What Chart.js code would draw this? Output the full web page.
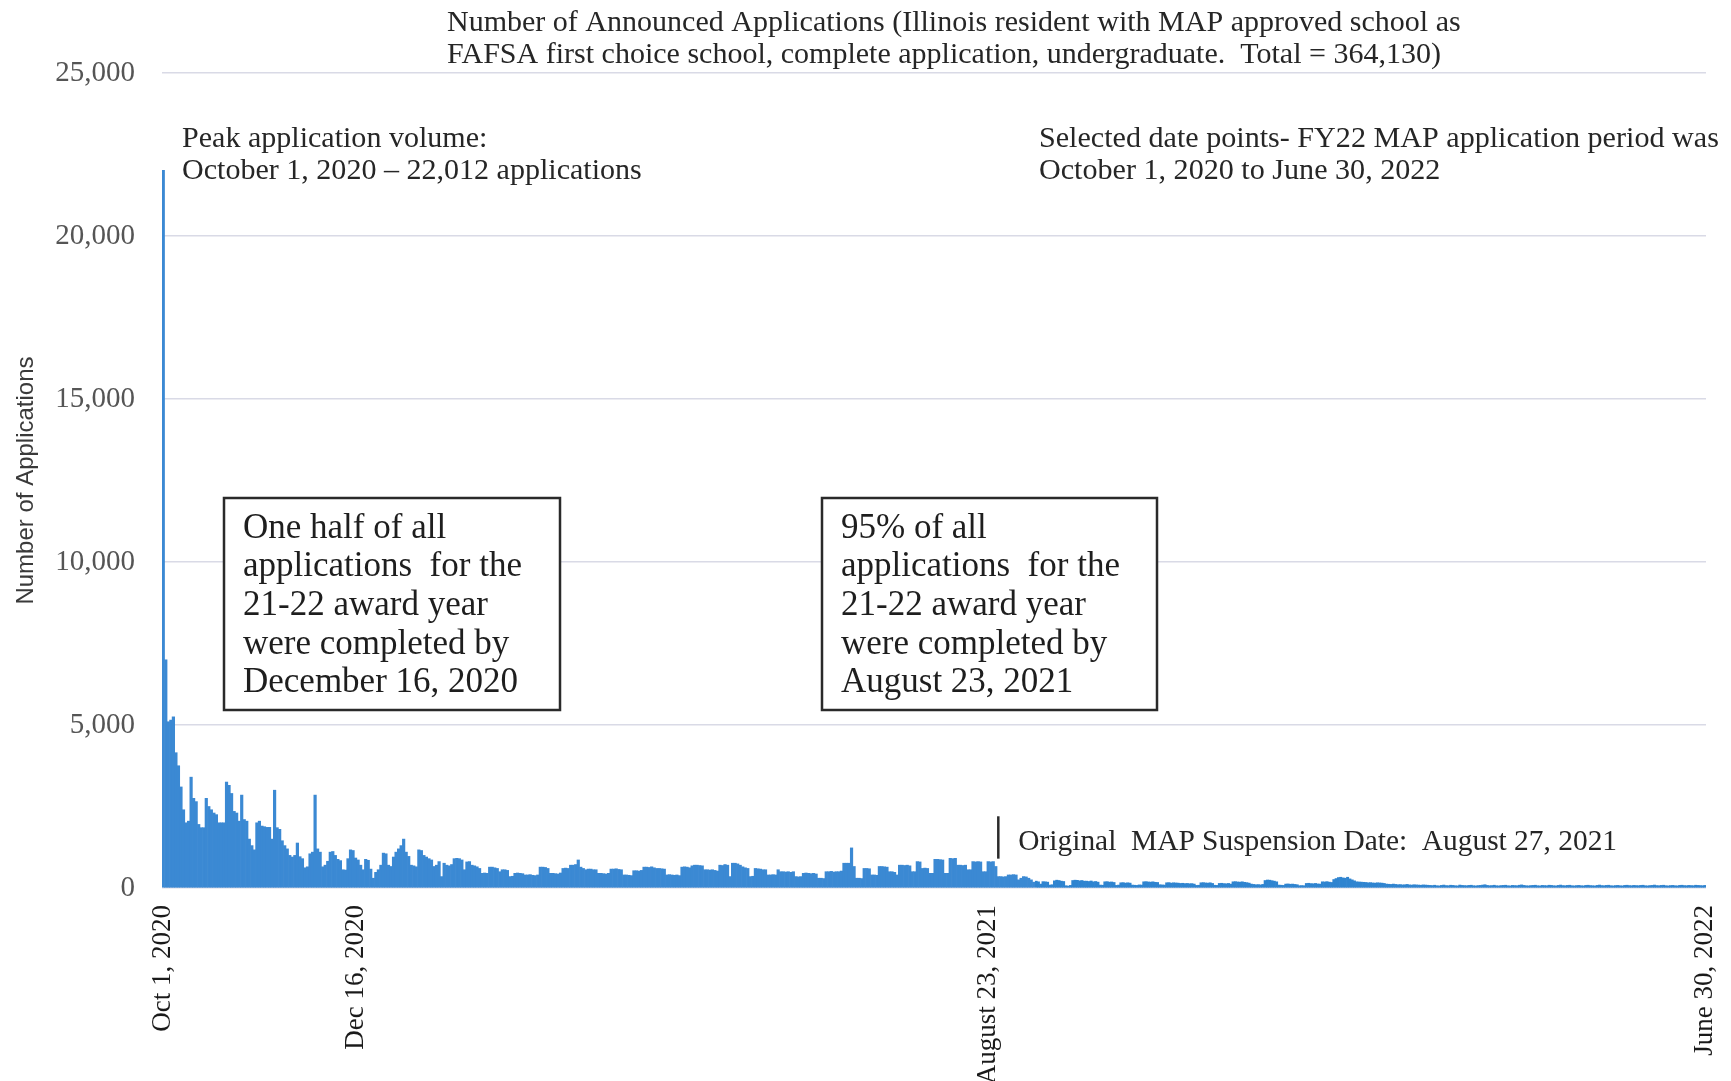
<!DOCTYPE html>
<html><head><meta charset="utf-8">
<script src="https://cdn.jsdelivr.net/npm/chart.js@4.4.1/dist/chart.umd.min.js"></script>
<style>html,body{margin:0;padding:0;background:#fff;}#wrap{width:1731px;height:1081px;position:relative;}</style>
</head><body><div id="wrap"><canvas id="c" width="1731" height="1081"></canvas></div>
<script>
// ---- DATA (daily applications) ----
const startDate = '2020-10-01';
const endDate = '2022-06-30';
const splitDate = '2021-09-11'; // first day of the compressed right-hand segment
const oct2020 = [22012,7000,5100,5150,5250,4150,3750,3100,2400,2000,2050,3400,2750,2650,1950,1850,1850,2750,2500,2400,2300,2250,2000,2000,2000,3250,3150,2900,2350,2300,2050];
const nov2020 = [2850,2100,2050,1500,1300,1170,2000,2050,1900,1880,1860,1860,1500,3000,1850,1800,1450,1300,1200,1000,950,1000,1380,960,900,620,650,1050,1100,2850];
const dec2020 = [1200,1100,650,700,820,1100,1120,1000,880,840,560,550,900,1170,1150,920,860,700,560,880,850,580,300,480,560,700,1070,1050,700,660,950];
const jan2021 = [1100,1200,1300,1500,1100,970,700,680,650,1170,1150,1000,950,900,860,660,700,810,350,760,700,680,720,900,910,900,860,560,800,810,700];
const feb2021 = [680,650,600,450,460,450,640,640,620,600,500,560,560,540,350,360,450,460,450,440,400,400,410,390,380,400,640,640];
const mar2021 = [630,600,450,450,440,430,460,600,610,600,700,700,720,860,640,600,560,580,580,560,560,450,450,440,430,450,580,580,590,570,560];
const apr2021 = [400,400,390,380,530,530,520,540,640,640,630,650,620,600,600,590,580,400,410,400,390,400,380,640,650,640,620,680,700,700];
const may2021 = [690,680,560,560,550,560,540,520,700,690,720,700,350,760,760,740,700,650,620,600,350,360,600,590,580,560,560,400,400,410,400];
const jun2021 = [560,500,500,490,500,480,500,350,340,350,450,460,450,440,450,430,300,300,290,500,500,510,490,500,500,520,760,760,760,1230];
const jul2021 = [660,300,300,290,600,600,590,400,400,390,660,660,650,640,500,500,480,400,700,700,690,700,680,500,500,810,800,600,610,600,450];
const aug2021 = [450,880,880,870,860,450,450,910,900,910,700,700,690,700,560,560,810,800,810,800,500,500,810,800,810,660,350,350,340,350,400];
const sep2021 = [400,410,400,250,300,350,340,300,250,180,210,190,120,195,190,180,90,100,220,240,230,210,200,70,60,80,230,240,235,220];
const oct2021 = [230,210,210,200,215,190,200,180,90,85,190,195,180,185,170,80,90,160,165,150,160,150,90,85,80,95,90,190,195,185,180];
const nov2021 = [190,175,170,100,95,90,160,165,150,160,155,150,140,145,135,140,130,135,120,80,85,160,165,155,150,160,140,85,80,140];
const dec2021 = [145,135,130,140,120,190,195,185,180,190,175,165,150,120,110,100,105,95,110,230,245,240,225,210,190,90,85,80,120,125,115];
const jan2022 = [120,110,100,70,75,70,140,145,135,130,140,125,120,190,185,195,180,170,260,290,320,330,310,300,330,280,250,220,190,185,180];
const feb2022 = [175,170,160,165,155,150,160,155,150,140,120,115,110,120,110,100,105,95,100,110,95,90,100,95,90,85,95,90];
const mar2022 = [85,80,75,85,70,65,80,90,75,70,85,80,70,65,90,80,75,70,80,85,70,65,75,80,90,100,80,70,75,85,70];
const apr2022 = [65,75,80,85,70,65,80,75,70,85,95,80,70,65,75,80,85,70,65,80,75,70,85,80,70,65,80,90,75,70];
const may2022 = [80,85,70,65,75,80,70,65,80,85,75,70,65,80,90,75,70,80,85,70,65,75,80,70,65,80,85,75,70,80,75];
const jun2022 = [70,80,85,70,65,75,80,90,75,70,80,85,70,65,75,80,70,65,80,85,75,70,80,75,70,85,80,75,70,80];

const tickDates = ['2020-10-01','2020-12-16','2021-08-23','2022-06-30'];
const tickTexts = ['Oct 1, 2020','Dec 16, 2020','August 23, 2021','June 30, 2022'];
const yTicks = [0, 5000, 10000, 15000, 20000, 25000];
const markerDate = '2021-08-27';
const markerRange = [900, 2200];

// ---- build categories ----
const allValues = [].concat(oct2020,nov2020,dec2020,jan2021,feb2021,mar2021,apr2021,may2021,jun2021,jul2021,aug2021,sep2021,
  oct2021,nov2021,dec2021,jan2022,feb2022,mar2022,apr2022,may2022,jun2022);
const allDates = [];
for (let d = new Date(startDate + 'T00:00:00Z'); d <= new Date(endDate + 'T00:00:00Z'); d.setUTCDate(d.getUTCDate() + 1)) {
  allDates.push(d.toISOString().slice(0, 10));
}
const splitIdx = allDates.indexOf(splitDate);
const leftDates = allDates.slice(0, splitIdx), rightDates = allDates.slice(splitIdx);
const leftVals = allValues.slice(0, splitIdx), rightVals = allValues.slice(splitIdx);

const SERIF = '"Liberation Serif", "Times New Roman", serif';
function tickCb(value) {
  const lbl = this.getLabelForValue(value);
  const i = tickDates.indexOf(lbl);
  return i >= 0 ? tickTexts[i] : '';
}
function xScale(labels, weight) {
  return {
    type: 'category', labels: labels, position: 'bottom', stack: 'dates', stackWeight: weight, offset: true,
    grid: { display: false, drawTicks: false }, border: { display: false },
    ticks: { autoSkip: false, maxRotation: 90, minRotation: 90, padding: 17, color: '#1a1a1a',
      font: { family: SERIF, size: 27 }, callback: tickCb },
    afterFit: s => { s.height = 193; s.paddingLeft = 0; s.paddingRight = 0; }
  };
}

const annot = {
  id: 'annot',
  afterDraw(chart) {
    const ctx = chart.ctx;
    ctx.save();
    const fit = (text, target) => { ctx.font = '100px ' + SERIF; return 100 * target / ctx.measureText(text).width; };
    const block = (lines, x, ys, size, color) => {
      ctx.font = size.toFixed(2) + 'px ' + SERIF; ctx.fillStyle = color; ctx.textAlign = 'left'; ctx.textBaseline = 'alphabetic';
      lines.forEach((t, i) => ctx.fillText(t, x, ys[i]));
    };
    // title
    const t1 = ['Number of Announced Applications (Illinois resident with MAP approved school as',
                'FAFSA first choice school, complete application, undergraduate.  Total = 364,130)'];
    block(t1, 447, [31, 63], fit(t1[0], 1014), '#262626');
    const p = ['Peak application volume:', 'October 1, 2020 \u2013 22,012 applications'];
    block(p, 182, [147, 179], fit(p[1], 460), '#262626');
    const s = ['Selected date points- FY22 MAP application period was', 'October 1, 2020 to June 30, 2022'];
    block(s, 1039, [147, 179], fit(s[0], 680), '#262626');
    // boxes
    const boxes = [
      { x: 224, y: 498, w: 336, h: 212, tx: 243, lines: ['One half of all', 'applications  for the', '21-22 award year', 'were completed by', 'December 16, 2020'] },
      { x: 822, y: 498, w: 335, h: 212, tx: 841, lines: ['95% of all', 'applications  for the', '21-22 award year', 'were completed by', 'August 23, 2021'] }
    ];
    boxes.forEach(b => {
      ctx.fillStyle = '#ffffff'; ctx.fillRect(b.x, b.y, b.w, b.h);
      ctx.strokeStyle = '#2a2a2a'; ctx.lineWidth = 2.5; ctx.strokeRect(b.x, b.y, b.w, b.h);
      block(b.lines, b.tx, [538, 576, 615, 654, 692], 35, '#1e1e1e');
    });
    // suspension marker
    const xs = chart.scales.x;
    const mx = xs.getPixelForValue(leftDates.indexOf(markerDate));
    const ys = chart.scales.y;
    ctx.strokeStyle = '#2a2a2a'; ctx.lineWidth = 2.5;
    ctx.beginPath(); ctx.moveTo(mx, ys.getPixelForValue(markerRange[1])); ctx.lineTo(mx, ys.getPixelForValue(markerRange[0])); ctx.stroke();
    const m = 'Original  MAP Suspension Date:  August 27, 2021';
    block([m], mx + 20, [850], fit(m, 599), '#262626');
    ctx.restore();
  }
};

new Chart(document.getElementById('c'), {
  type: 'bar',
  data: {
    datasets: [
      { data: leftVals, xAxisID: 'x', yAxisID: 'y', backgroundColor: '#3b89d3', borderWidth: 0, barPercentage: 1, categoryPercentage: 1, grouped: false },
      { data: rightVals, xAxisID: 'x2', yAxisID: 'y', backgroundColor: '#2f84d0', borderWidth: 0, barPercentage: 1, categoryPercentage: 1, grouped: false }
    ]
  },
  options: {
    responsive: false, animation: false, devicePixelRatio: 1,
    layout: { padding: { left: 0, right: 25, top: 73, bottom: 0 } },
    plugins: { legend: { display: false }, tooltip: { enabled: false } },
    scales: {
      x: xScale(leftDates, 873),
      x2: xScale(rightDates, 671),
      y: {
        type: 'linear', position: 'left', min: yTicks[0], max: yTicks[yTicks.length - 1],
        afterBuildTicks: sc => { sc.ticks = yTicks.map(v => ({ value: v })); },
        grid: { color: '#d9dae6', lineWidth: 1.5, drawTicks: false }, border: { display: false },
        ticks: { padding: 27, color: '#555555', font: { family: SERIF, size: 29 },
          callback: v => v.toLocaleString('en-US') },
        title: { display: true, text: 'Number of Applications', color: '#3a3a3a',
          font: { family: '"Liberation Sans", Arial, sans-serif', size: 24 }, padding: { top: 12, bottom: 0 } },
        afterFit: sc => { sc.width = 162; }
      }
    }
  },
  plugins: [annot]
});
</script></body></html>
